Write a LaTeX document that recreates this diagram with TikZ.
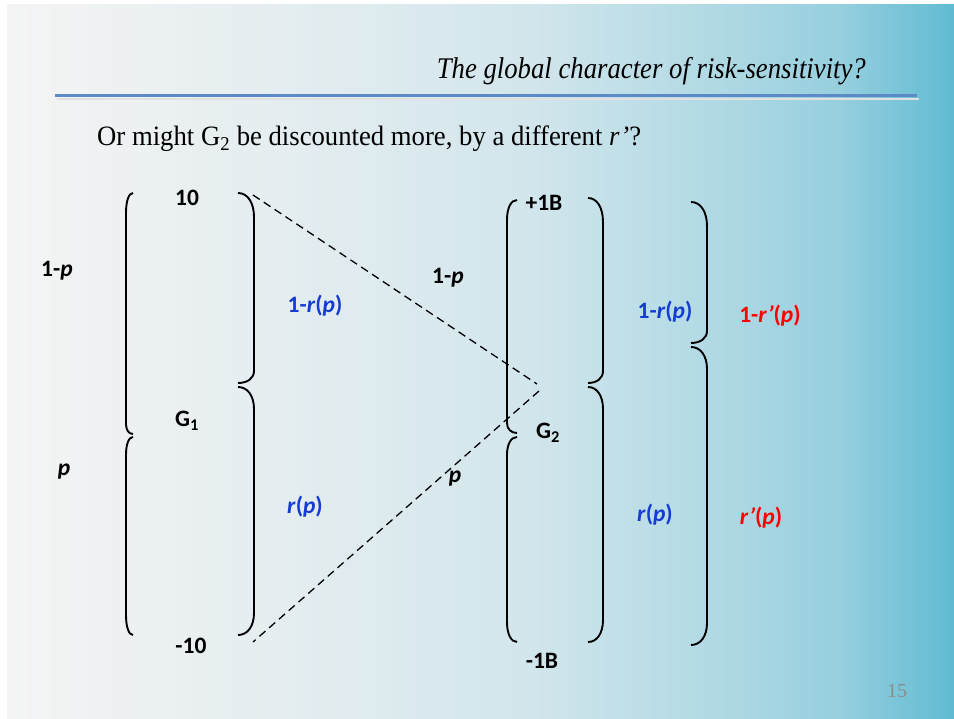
\documentclass[tikz,border=0pt]{standalone}
\usepackage{fontspec}
\usepackage{graphicx}
\newfontfamily\lab{Carlito}
\newfontfamily\tms{Liberation Serif}
\definecolor{bgA}{HTML}{F4F4F4}
\definecolor{bgB}{HTML}{E4EDF0}
\definecolor{bgC}{HTML}{D2E6EC}
\definecolor{bgD}{HTML}{B0D9E4}
\definecolor{bgE}{HTML}{96CFDE}
\definecolor{bgF}{HTML}{60BBD2}
\definecolor{rulecol}{RGB}{91,138,198}
\definecolor{labblue}{RGB}{20,60,210}
\definecolor{labred}{RGB}{255,0,0}
\definecolor{pagegray}{RGB}{140,140,140}
\pgfdeclarehorizontalshading{slidebg}{100bp}{color(0bp)=(bgA); color(25bp)=(bgA); color(40bp)=(bgB); color(52.5bp)=(bgC); color(62.5bp)=(bgD); color(69bp)=(bgE); color(75bp)=(bgF); color(100bp)=(bgF)}
% #1 x of line, #2 x of ends, #3 top y, #4 bottom y, #5 top radius, #6 bottom radius
\newcommand\bracearc[6]{\draw[brc] (#2,#3) .. controls ({#2+0.6*(#1-#2)},#3) and (#1,{#3+0.4*#5}) .. (#1,#3+#5) -- (#1,#4-#6) .. controls (#1,{#4-0.4*#6}) and ({#2+0.6*(#1-#2)},#4) .. (#2,#4);}
\begin{document}
\begin{tikzpicture}[x=1pt,y=-1pt,
  lbl/.style={font=\lab\bfseries\fontsize{23.5}{26}\selectfont, inner sep=0pt},
  bl/.style={lbl, text=labblue},
  rd/.style={lbl, text=labred},
  brc/.style={draw=black, line width=1.9pt},
  conn/.style={draw=black, line width=1.3pt, dash pattern=on 8pt off 5pt}]
\useasboundingbox (0,0) rectangle (954,719);
\fill[white] (0,0) rectangle (954,719);
\shade[shading=slidebg] (7,5) rectangle (954,718);
% title
\node[anchor=base east, inner sep=0pt] (title) at (866,79) {\resizebox{429pt}{\height}{\tms\itshape\fontsize{30}{34}\selectfont The global character of risk-sensitivity?}};
\draw[line width=2pt, black!12] (57,99.5) -- (919,99.5);
\draw[line width=3pt, rulecol] (55,96) -- (917,96);
\node[anchor=base west, inner sep=0pt] (sub) at (97,146) {\resizebox{544pt}{\height}{\tms\fontsize{28}{32}\selectfont Or might G\textsubscript{2} be discounted more, by a different \textit{r’}?}};
% braces
\bracearc{126}{133}{193}{434}{20}{10}
\bracearc{126}{133}{437}{635}{18}{20}
\bracearc{254}{238}{193}{383}{24}{12}
\bracearc{254}{238}{387}{635}{22}{22}
\bracearc{507}{517}{200}{433}{20}{10}
\bracearc{507}{517}{437}{642}{18}{20}
\bracearc{603}{588}{198}{383}{24}{12}
\bracearc{603}{588}{387}{642}{22}{22}
\bracearc{707}{691}{202}{343}{24}{12}
\bracearc{707}{691}{347}{645}{22}{22}
% dashed connectors
\coordinate (g1top) at (253,195);
\coordinate (g1bot) at (253,642);
\coordinate (apexA) at (537,384);
\coordinate (apexB) at (539,391);
\draw[conn] (g1top) -- (apexA);
\draw[conn] (apexB) -- (g1bot);
% labels
\node[lbl] (o10) at (187,198) {10};
\node[lbl] (g1) at (187,421) {G\textsubscript{1}};
\node[lbl] (om10) at (191,646) {-10};
\node[lbl] (lp1) at (57,271) {1-\textit{p}};
\node[lbl] (lp) at (64,472) {\textit{p}};
\node[bl] (brp1) at (315,306) {1-\textit{r}(\textit{p})};
\node[bl] (brp) at (305,507) {\textit{r}(\textit{p})};
\node[lbl] (mp1) at (448,278) {1-\textit{p}};
\node[lbl] (mp) at (455,479) {\textit{p}};
\node[lbl] (p1b) at (544,203) {+1B};
\node[lbl] (g2) at (548,433) {G\textsubscript{2}};
\node[lbl] (m1b) at (542,661) {-1B};
\node[bl] (brp1r) at (665,312) {1-\textit{r}(\textit{p})};
\node[bl] (brpr) at (655,515) {\textit{r}(\textit{p})};
\node[rd] (rrp1) at (770,316) {1-\textit{r’}(\textit{p})};
\node[rd] (rrp) at (761,518) {\textit{r’}(\textit{p})};
\node[font=\tms\fontsize{20}{22}\selectfont, text=pagegray, inner sep=0pt] (pg) at (897,691) {15};
\end{tikzpicture}
\end{document}
